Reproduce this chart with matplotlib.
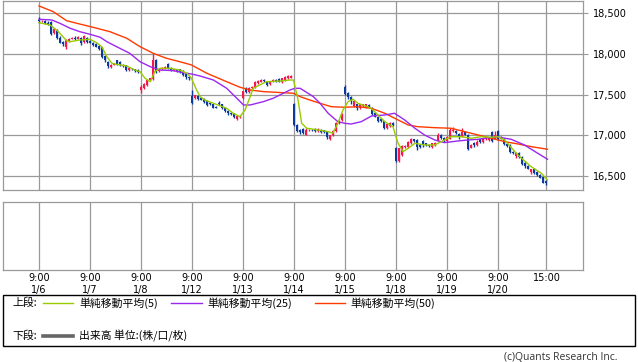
import matplotlib
matplotlib.use("Agg")
import matplotlib.pyplot as plt
from matplotlib.patches import Rectangle
from matplotlib.lines import Line2D
import numpy as np

# ---------------- data ----------------
days = ['1/6', '1/7', '1/8', '1/12', '1/13', '1/14', '1/15', '1/18', '1/19', '1/20']
bars_per_day = 17
yticks = [16500, 17000, 17500, 18000, 18500]

opens = [
    18420, 18400, 18410, 18380, 18390, 18260, 18300, 18200, 18150, 18090, 18160, 18190, 18200, 18190, 18200, 18150, 18200,
    18160, 18140, 18120, 18100, 18080, 17980, 17900, 17840, 17870, 17920, 17900, 17870, 17860, 17800, 17820, 17810, 17800,
    17560, 17580, 17620, 17680, 17690, 17930, 17790, 17810, 17830, 17880, 17830, 17800, 17810, 17810, 17790, 17750, 17720,
    17480, 17455, 17480, 17460, 17450, 17420, 17400, 17380, 17350, 17400, 17380, 17330, 17300, 17280, 17270, 17200, 17220,
    17460, 17570, 17530, 17580, 17590, 17640, 17660, 17680, 17660, 17630, 17660, 17680, 17690, 17650, 17680, 17700, 17710,
    17380, 17130, 17060, 17080, 17010, 17060, 17070, 17080, 17050, 17070, 17060, 17040, 16960, 17000, 17050, 17150, 17190,
    17590, 17520, 17470, 17360, 17380, 17330, 17360, 17350, 17370, 17340, 17280, 17230, 17200, 17170, 17090, 17110, 17150,
    16850, 16680, 16760, 16860, 16860, 16900, 16950, 16940, 16880, 16930, 16900, 16880, 16860, 16880, 16940, 17010, 16970,
    16930, 16960, 17050, 17050, 17020, 16990, 17040, 17010, 16850, 16900, 16880, 16950, 16920, 16950, 16940, 17040, 16960,
    17050, 16980, 16960, 16890, 16880, 16800, 16740, 16780, 16730, 16660, 16620, 16550, 16580, 16550, 16510, 16490, 16440,
]
closes = [
    18400, 18410, 18380, 18360, 18250, 18310, 18200, 18140, 18120, 18170, 18190, 18200, 18190, 18210, 18130, 18220, 18150,
    18140, 18110, 18090, 18060, 17960, 17920, 17850, 17870, 17880, 17880, 17860, 17850, 17800, 17830, 17810, 17790, 17780,
    17600, 17630, 17680, 17700, 17930, 17780, 17820, 17830, 17840, 17830, 17800, 17810, 17790, 17780, 17740, 17720, 17700,
    17400, 17490, 17450, 17440, 17410, 17370, 17380, 17340, 17340, 17390, 17330, 17300, 17270, 17260, 17220, 17240, 17240,
    17540, 17530, 17580, 17600, 17660, 17670, 17680, 17670, 17620, 17660, 17680, 17670, 17660, 17700, 17720, 17730, 17730,
    17130, 17050, 17040, 17030, 17070, 17070, 17060, 17050, 17080, 17040, 17040, 16980, 17000, 17050, 17150, 17180, 17260,
    17510, 17470, 17420, 17420, 17330, 17380, 17380, 17380, 17340, 17260, 17230, 17180, 17170, 17090, 17140, 17150, 17130,
    16690, 16840, 16870, 16870, 16920, 16960, 16930, 16860, 16860, 16880, 16880, 16870, 16900, 16910, 17010, 16970, 16940,
    16980, 17060, 17060, 17030, 16990, 17040, 17010, 16830, 16880, 16880, 16920, 16920, 16960, 16970, 16970, 16930, 17010,
    16960, 16960, 16890, 16870, 16790, 16780, 16780, 16730, 16650, 16620, 16590, 16580, 16540, 16510, 16480, 16420, 16420,
]
highs = [
    18450, 18420, 18420, 18400, 18400, 18320, 18310, 18220, 18160, 18180, 18200, 18210, 18220, 18220, 18210, 18230, 18210,
    18170, 18150, 18130, 18110, 18090, 17990, 17910, 17880, 17890, 17930, 17910, 17880, 17870, 17840, 17830, 17820, 17810,
    17620, 17640, 17690, 17710, 18000, 17940, 17830, 17840, 17850, 17890, 17840, 17820, 17820, 17820, 17800, 17760, 17730,
    17560, 17500, 17490, 17470, 17460, 17430, 17410, 17390, 17360, 17420, 17390, 17340, 17310, 17290, 17280, 17250, 17250,
    17550, 17590, 17590, 17610, 17670, 17680, 17690, 17690, 17670, 17670, 17690, 17690, 17700, 17710, 17730, 17740, 17740,
    17400, 17140, 17080, 17090, 17090, 17080, 17080, 17090, 17090, 17080, 17070, 17050, 17010, 17060, 17160, 17190, 17280,
    17620, 17530, 17480, 17440, 17390, 17390, 17390, 17390, 17380, 17350, 17290, 17240, 17210, 17180, 17150, 17160, 17160,
    16860, 16850, 16880, 16880, 16930, 16970, 16960, 16950, 16890, 16940, 16910, 16890, 16910, 16920, 17030, 17020, 16980,
    16990, 17090, 17100, 17060, 17030, 17090, 17050, 17020, 16890, 16920, 16940, 16960, 16970, 16980, 16980, 17050, 17050,
    17070, 16990, 16970, 16900, 16890, 16810, 16790, 16790, 16740, 16680, 16630, 16590, 16600, 16560, 16520, 16500, 16450,
]
lows = [
    18380, 18390, 18370, 18350, 18230, 18250, 18190, 18130, 18100, 18060, 18150, 18180, 18170, 18180, 18110, 18140, 18130,
    18130, 18100, 18080, 18050, 17950, 17900, 17830, 17830, 17860, 17860, 17850, 17840, 17790, 17790, 17800, 17780, 17770,
    17520, 17570, 17610, 17670, 17680, 17770, 17780, 17800, 17820, 17820, 17790, 17790, 17780, 17770, 17730, 17690, 17680,
    17390, 17450, 17440, 17430, 17400, 17360, 17370, 17330, 17330, 17370, 17320, 17290, 17250, 17250, 17210, 17190, 17210,
    17450, 17520, 17520, 17570, 17580, 17630, 17650, 17660, 17610, 17620, 17650, 17660, 17650, 17640, 17670, 17690, 17700,
    17120, 17040, 17020, 17020, 17000, 17050, 17050, 17040, 17040, 17030, 17030, 16960, 16940, 16990, 17040, 17140, 17180,
    17500, 17450, 17390, 17350, 17310, 17320, 17350, 17340, 17330, 17250, 17220, 17160, 17160, 17080, 17080, 17100, 17120,
    16670, 16670, 16750, 16850, 16850, 16890, 16920, 16820, 16850, 16860, 16870, 16860, 16850, 16870, 16930, 16960, 16920,
    16920, 16950, 17040, 17020, 16960, 16980, 17000, 16820, 16840, 16860, 16870, 16910, 16910, 16940, 16930, 16920, 16950,
    16940, 16950, 16880, 16860, 16780, 16770, 16720, 16720, 16640, 16600, 16580, 16530, 16530, 16500, 16470, 16410, 16390,
]

ma5_t = [0.0, 0.22, 0.38, 0.54, 0.61, 0.80, 1.0, 1.13, 1.23, 1.33, 1.43, 1.52, 1.72, 1.88, 1.98, 2.08, 2.18, 2.27,
         2.37, 2.57, 2.76, 2.90, 2.99, 3.09, 3.16, 3.25, 3.42, 3.68, 3.81, 3.94, 4.04, 4.14, 4.20, 4.33, 4.46, 4.73,
         4.92, 4.99, 5.08, 5.15, 5.25, 5.47, 5.67, 5.76, 5.86, 5.96, 6.06, 6.16, 6.25, 6.45, 6.55, 6.68, 6.78, 6.94,
         7.04, 7.14, 7.24, 7.37, 7.56, 7.76, 7.95, 8.08, 8.28, 8.48, 8.67, 8.87, 9.0, 9.13, 9.33, 9.46, 9.65, 9.85, 9.97]
ma5_v = [18384, 18356, 18274, 18163, 18151, 18172, 18180, 18139, 18090, 17967, 17885, 17873, 17852, 17803, 17782,
         17701, 17659, 17782, 17824, 17824, 17803, 17763, 17701, 17557, 17475, 17434, 17394, 17332, 17271, 17229,
         17311, 17475, 17578, 17619, 17659, 17668, 17680, 17680, 17434, 17148, 17087, 17066, 17045, 17025, 17148,
         17311, 17414, 17443, 17394, 17352, 17311, 17229, 17168, 17106, 16902, 16799, 16841, 16902, 16881, 16881,
         16943, 16983, 16983, 16964, 16983, 16976, 16983, 16943, 16799, 16718, 16615, 16534, 16451]

ma25_t = [0.0, 0.25, 0.41, 0.61, 0.80, 1.0, 1.20, 1.33, 1.52, 1.78, 1.98, 2.18, 2.37, 2.63, 2.83, 2.99, 3.16, 3.42,
          3.68, 3.88, 4.01, 4.14, 4.40, 4.59, 4.79, 4.92, 5.02, 5.12, 5.38, 5.51, 5.67, 5.86, 5.99, 6.12, 6.32, 6.52,
          6.78, 6.97, 7.17, 7.37, 7.56, 7.76, 7.95, 8.22, 8.41, 8.61, 8.87, 9.03, 9.26, 9.52, 9.78, 9.97]
ma25_v = [18426, 18418, 18377, 18316, 18274, 18242, 18205, 18151, 18090, 18008, 17905, 17844, 17803, 17795, 17770,
          17754, 17729, 17680, 17578, 17455, 17373, 17373, 17414, 17455, 17517, 17557, 17578, 17578, 17475, 17394,
          17271, 17168, 17148, 17139, 17168, 17238, 17250, 17271, 17189, 17087, 17004, 16943, 16910, 16931, 16943,
          16951, 16976, 16976, 16951, 16881, 16779, 16706]

ma50_t = [0.0, 0.28, 0.54, 0.80, 1.06, 1.39, 1.72, 1.98, 2.24, 2.50, 2.76, 2.99, 3.29, 3.68, 3.94, 4.14, 4.40, 4.79,
          4.99, 5.12, 5.31, 5.51, 5.73, 5.99, 6.25, 6.52, 6.78, 7.04, 7.24, 7.43, 7.76, 8.08, 8.35, 8.61, 8.87, 9.13,
          9.39, 9.65, 9.97]
ma50_v = [18590, 18520, 18409, 18368, 18328, 18274, 18193, 18090, 18008, 17947, 17905, 17865, 17763, 17659, 17591,
          17557, 17537, 17524, 17517, 17475, 17434, 17394, 17352, 17345, 17352, 17332, 17271, 17189, 17127, 17106,
          17094, 17087, 17045, 17004, 16964, 16922, 16894, 16861, 16829]

# ---------------- figure ----------------
W, H = 638, 362
fig = plt.figure(figsize=(W / 100, H / 100), dpi=100)
fig.patch.set_facecolor('white')


def fx(x):
    return x / W


def fy(y):
    return 1 - y / H


grid_c = '#999999'
x_left = (3 - 39) / 51
x_right = (583 - 39) / 51

ax = fig.add_axes([fx(3), fy(190), fx(583) - fx(3), fy(1) - fy(190)])
ax2 = fig.add_axes([fx(3), fy(270), fx(583) - fx(3), fy(201.5) - fy(270)])

vgrid = list(range(len(days))) + [9 + 16 / 17]
for a in (ax, ax2):
    a.set_xlim(x_left, x_right)
    for s in a.spines.values():
        s.set_color(grid_c)
        s.set_linewidth(0.9)
    a.set_xticks([])
    for v in vgrid:
        a.axvline(v, color=grid_c, lw=0.9, zorder=0)

ax.set_ylim(16328, 18651)
for v in yticks:
    ax.axhline(v, color=grid_c, lw=0.9, zorder=0)
ax.yaxis.tick_right()
ax.set_yticks(yticks)
ax.set_yticklabels([f'{v:,}' for v in yticks], fontsize=7, family='DejaVu Sans')
ax.tick_params(axis='y', direction='out', length=3.6, width=0.8, color=grid_c, pad=3.5)
ax2.set_yticks([])

# candles
n = len(closes)
xs = np.arange(n) / bars_per_day
o = np.array(opens, dtype=float)
c = np.array(closes, dtype=float)
hi = np.array(highs, dtype=float)
lo = np.array(lows, dtype=float)
up = c >= o
red = '#f5164a'
blue = '#0b3a9c'
cols = np.where(up, red, blue)
body_bot = np.minimum(o, c)
body_h = np.maximum(np.abs(c - o), 10)
ax.vlines(xs, lo, hi, colors=cols, lw=1.0, zorder=2)
ax.bar(xs, body_h, bottom=body_bot, width=2.6 / 51, color=cols, linewidth=0, zorder=3)

green = '#99cc00'
purple = '#9b27f0'
orange = '#ff3a00'
ax.plot(ma50_t, ma50_v, color=orange, lw=1.0, zorder=4)
ax.plot(ma25_t, ma25_v, color=purple, lw=1.0, zorder=4)
ax.plot(ma5_t, ma5_v, color=green, lw=1.0, zorder=4)

# x labels
for i, d in enumerate(days):
    xp = 39 + 51 * i
    fig.text(fx(xp), fy(278), '9:00', ha='center', va='center', fontsize=7, family='DejaVu Sans')
    fig.text(fx(xp), fy(290), d, ha='center', va='center', fontsize=7, family='DejaVu Sans')
fig.text(fx(547), fy(278), '15:00', ha='center', va='center', fontsize=7, family='DejaVu Sans')

# legend box
fig.add_artist(Rectangle((fx(3), fy(346)), fx(635) - fx(3), fy(295) - fy(346), transform=fig.transFigure,
                         fill=False, edgecolor='black', lw=1.0))
cjk = ['Noto Sans CJK JP', 'DejaVu Sans']
fs = 7.8
fig.text(fx(12), fy(303), '上段:', ha='left', va='center', fontsize=fs, family=cjk)
fig.text(fx(12), fy(336), '下段:', ha='left', va='center', fontsize=fs, family=cjk)
fig.add_artist(Line2D([fx(43), fx(73)], [fy(303), fy(303)], color=green, lw=1.0, transform=fig.transFigure))
fig.text(fx(79), fy(303), '単純移動平均(5)', ha='left', va='center', fontsize=fs, family=cjk)
fig.add_artist(Line2D([fx(171), fx(202)], [fy(303), fy(303)], color=purple, lw=1.0, transform=fig.transFigure))
fig.text(fx(207), fy(303), '単純移動平均(25)', ha='left', va='center', fontsize=fs, family=cjk)
fig.add_artist(Line2D([fx(315), fx(345)], [fy(303), fy(303)], color=orange, lw=1.0, transform=fig.transFigure))
fig.text(fx(350), fy(303), '単純移動平均(50)', ha='left', va='center', fontsize=fs, family=cjk)
fig.add_artist(Line2D([fx(43), fx(73)], [fy(336), fy(336)], color='#666666', lw=2.6, transform=fig.transFigure))
fig.text(fx(79), fy(336), '出来高 単位:(株/口/枚)', ha='left', va='center', fontsize=fs, family=cjk)

fig.text(fx(617), fy(357), '(c)Quants Research Inc.', ha='right', va='center', fontsize=7.5,
         family='Open Sans', color='#333333')

fig.savefig('out.png', dpi=100, facecolor='white')
